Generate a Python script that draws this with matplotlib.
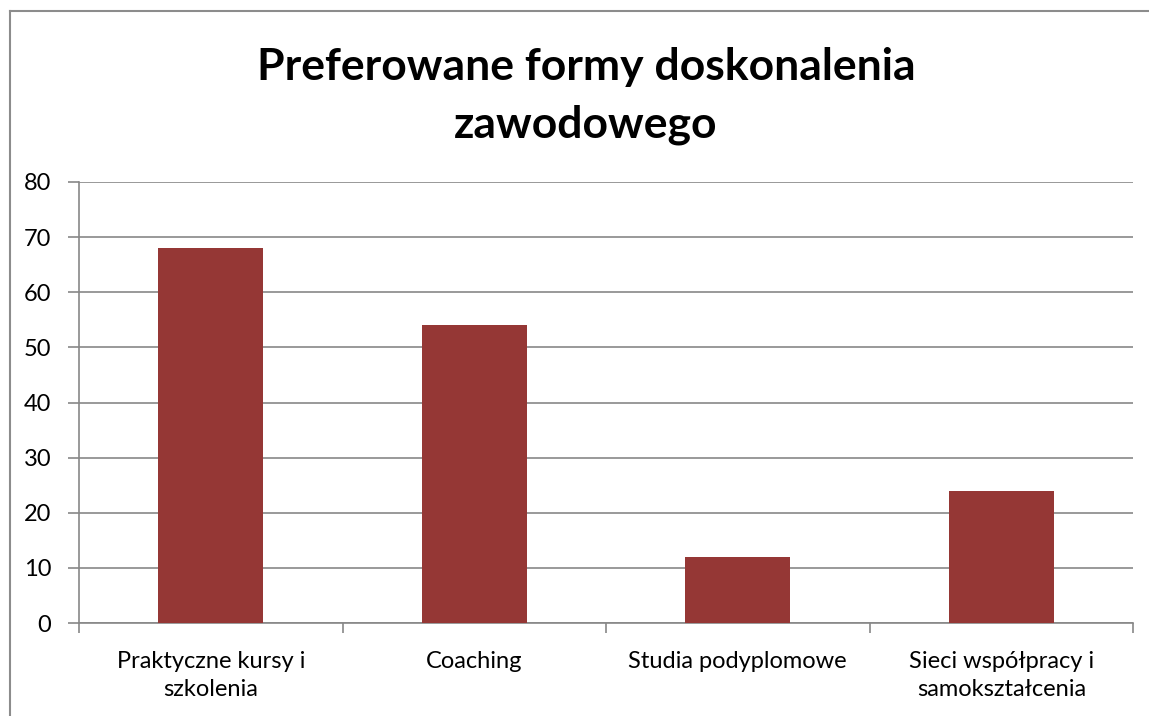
import matplotlib
matplotlib.use("Agg")
import matplotlib.pyplot as plt
from matplotlib.lines import Line2D
import numpy as np

categories = ["Praktyczne kursy i\nszkolenia", "Coaching", "Studia podyplomowe", "Sieci współpracy i\nsamokształcenia"]
values = [68, 54, 12, 24]
yticks = [0, 10, 20, 30, 40, 50, 60, 70, 80]
title = "Preferowane formy doskonalenia\nzawodowego"

plt.rcParams['font.family'] = ['Lato', 'DejaVu Sans']

W, H = 1149, 716
fig = plt.figure(figsize=(W/100, H/100), dpi=100)
ax = fig.add_axes([79/W, 1-623/H, (1133-79)/W, (623-182)/H])

gc = "#878787"
x = np.arange(len(values))
ax.bar(x, values, width=0.4, color="#953735", zorder=3)
ax.set_xlim(-0.5, len(values)-0.5)
ax.set_ylim(0, 80)
ax.set_yticks(yticks)
ax.set_yticklabels([str(v) for v in yticks], fontsize=17)
ax.yaxis.grid(True, color=gc, linewidth=1.2, zorder=0)
ax.set_xticks(x)
ax.set_xticklabels(categories, fontsize=17, linespacing=1.4)
ax.tick_params(axis='x', length=0, pad=20)
ax.set_xticks(np.arange(-0.5, len(values)), minor=True)
ax.tick_params(axis='x', which='minor', length=7, width=1.2, color=gc, direction='out')
ax.tick_params(axis='y', length=8, width=1.2, color=gc, pad=12)
for s in ['top', 'right']:
    ax.spines[s].set_visible(False)
for s in ['left', 'bottom']:
    ax.spines[s].set_color(gc)
    ax.spines[s].set_linewidth(1.2)

fig.text(586/W, 1-96/H, title, ha='center', va='center', fontsize=32, fontweight='bold',
         linespacing=1.55)

fig.add_artist(Line2D([10/W, 10/W], [0, 1-11/H], color="#8c8c8c", linewidth=1.5, transform=fig.transFigure))
fig.add_artist(Line2D([10/W, 1], [1-11/H, 1-11/H], color="#8c8c8c", linewidth=1.5, transform=fig.transFigure))

fig.savefig("out.png", dpi=100)
